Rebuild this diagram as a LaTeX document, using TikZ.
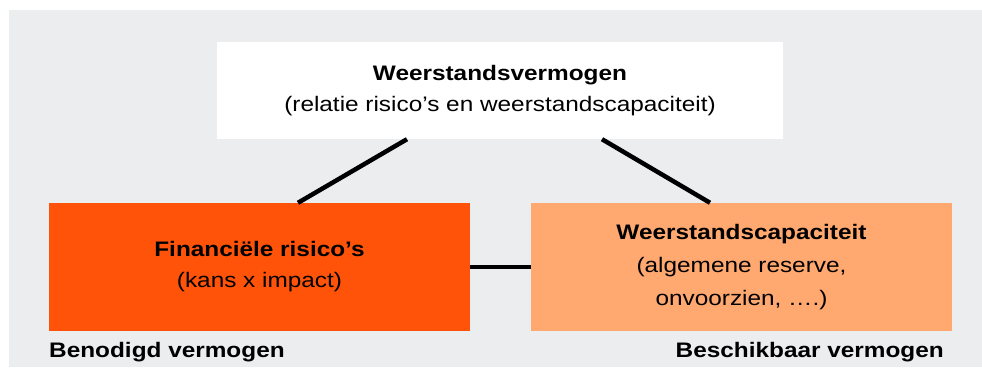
\documentclass[tikz,border=0pt]{standalone}
\usepackage{fontspec}
\setmainfont{Liberation Sans}[FakeStretch=1.16]

\begin{document}
\begin{tikzpicture}[x=1pt,y=1pt,yscale=-1,xscale=1,
  box/.style={inner sep=0pt,minimum width=421pt,minimum height=128pt,align=center,
    font=\fontsize{21}{31}\selectfont},
  link/.style={color=black,line width=4.5pt},
  side/.style={inner sep=0pt,font=\bfseries\fontsize{21}{24}\selectfont}]
\useasboundingbox (0,0) rectangle (982,367);

%Shape: Rectangle [id:backdrop]
\fill [color={rgb, 255:red, 236; green, 237; blue, 239 }] (9,10) rectangle (982,367) ;

%Shape: Rectangle [id:top]
\node [box,fill=white,minimum width=566pt,minimum height=97pt] (vermogen) at (500,90.5)
  {\textbf{Weerstandsvermogen}\\(relatie risico’s en weerstandscapaciteit)};
%Shape: Rectangle [id:left]
\node [box,fill={rgb, 255:red, 255; green, 83; blue, 10 }] (risico) at (259.5,267)
  {\textbf{Financiële risico’s}\\(kans x impact)};
%Shape: Rectangle [id:right]
\node [box,fill={rgb, 255:red, 255; green, 168; blue, 112 },font=\fontsize{21}{33}\selectfont] (capaciteit) at (741.5,267)
  {\textbf{Weerstandscapaciteit}\\(algemene reserve,\\onvoorzien, ….)};

%Straight Lines
\draw [link] ([xshift=-93pt]vermogen.south) -- ([xshift=38.5pt]risico.north) ;
%Straight Lines
\draw [link] ([xshift=102pt]vermogen.south) -- ([xshift=-31.5pt]capaciteit.north) ;
%Straight Lines
\draw [link] (risico.east) -- (capaciteit.west) ;

%Text
\node [side,anchor=base west] (benodigd) at (49,357) {Benodigd vermogen};
\node [side,anchor=base east] (beschikbaar) at (944,357) {Beschikbaar vermogen};

\end{tikzpicture}
\end{document}
